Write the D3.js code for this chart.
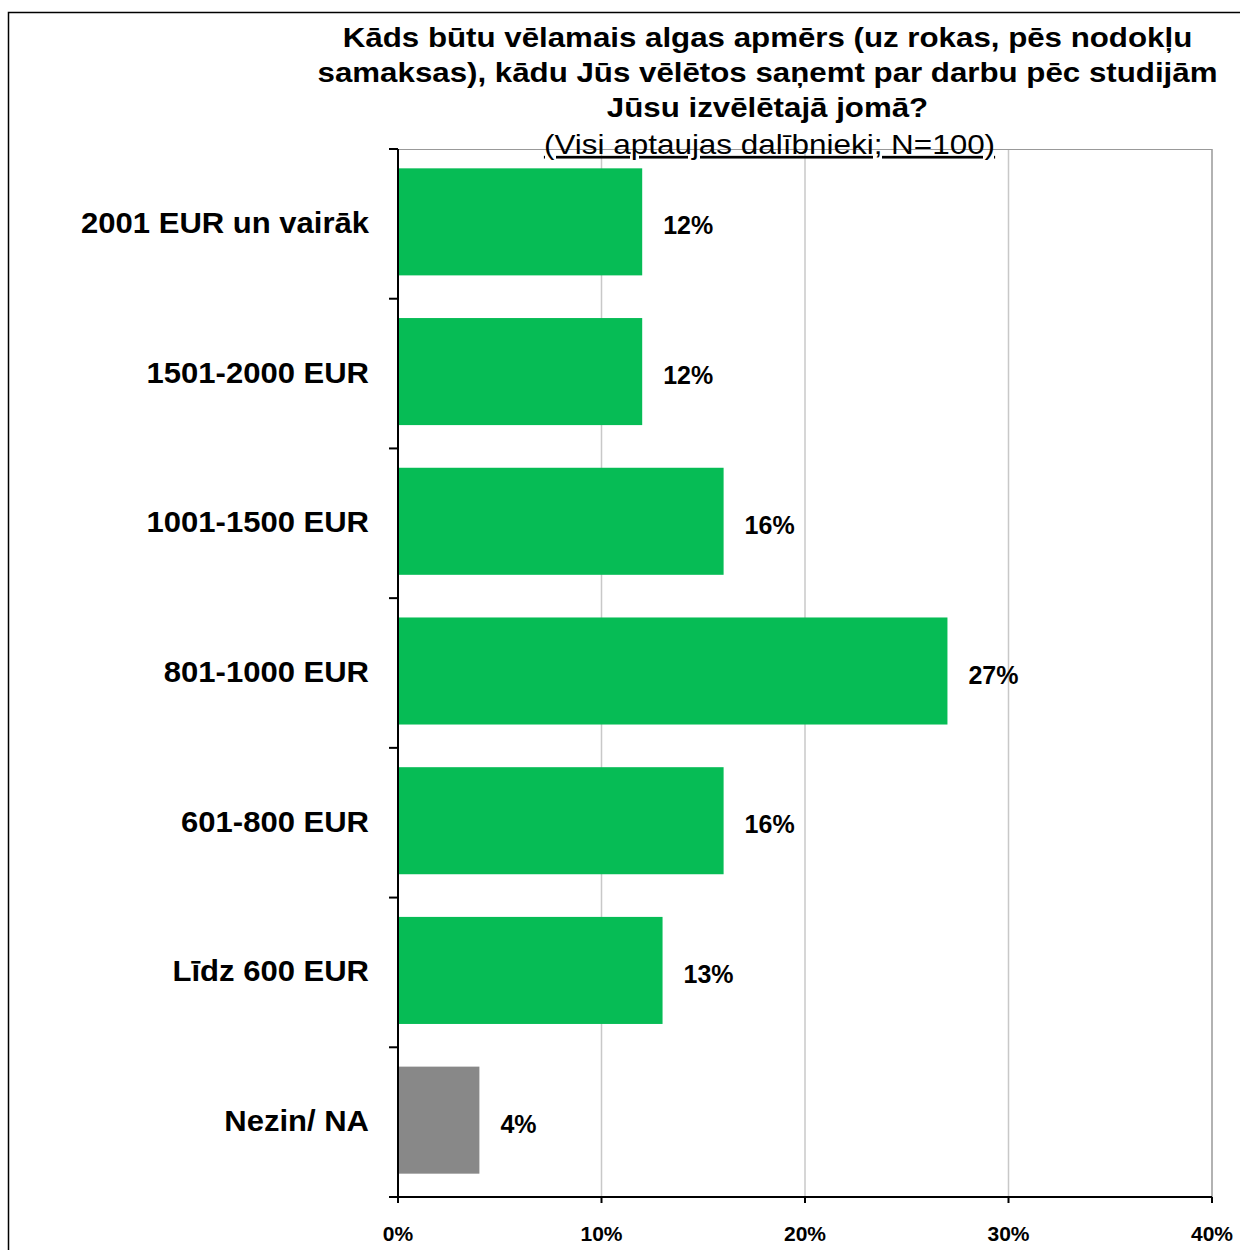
<!DOCTYPE html>
<html>
<head>
<meta charset="utf-8">
<script src="https://cdn.jsdelivr.net/npm/d3@7"></script>
<style>
  body { margin: 0; background: #fff; }
  text { font-family: "Liberation Sans", Arial, sans-serif; }
</style>
</head>
<body>
<div id="chart-container"></div>
<script>
// data
let categories = ["2001 EUR un vairāk", "1501-2000 EUR", "1001-1500 EUR", "801-1000 EUR", "601-800 EUR", "Līdz 600 EUR", "Nezin/ NA"];
let values = [12, 12, 16, 27, 16, 13, 4];
let barColors = ["#06bc55", "#06bc55", "#06bc55", "#06bc55", "#06bc55", "#06bc55", "#888888"];
let xTicks = [0, 10, 20, 30, 40];
let titleLines = ["Kāds būtu vēlamais algas apmērs (uz rokas, pēs nodokļu", "samaksas), kādu Jūs vēlētos saņemt par darbu pēc studijām", "Jūsu izvēlētajā jomā?"];
let subtitle = "(Visi aptaujas dalībnieki; N=100)";

chart = {
  "scale": {
    "x": d3.scaleLinear(),
    "y": d3.scaleBand()
  },
  "margin": { "top": 149, "bottom": 53, "left": 398, "right": 28 },
  "width": 1240,
  "height": 1250
}

// text in the original is a bit wider than Arial, so stretch it horizontally
function stretched(x, y, sx){
  return "translate(" + x + "," + y + ") scale(" + sx + ",1)";
}

function drawChart(){
  let svg = d3.select("#chart-container").append("svg")
    .attr("width", chart.width).attr("height", chart.height);

  let y0 = chart.margin.top, y1 = chart.height - chart.margin.bottom;
  chart.scale.x.domain([0, 40]).range([chart.margin.left, chart.width - chart.margin.right]);
  // bars sit a little above the middle of each slot
  chart.scale.y.domain(categories).range([y0 - 2, y1 - 2]).paddingInner(0.285).paddingOuter(0.1425);

  // outer frame
  svg.append("rect").attr("x", 8.5).attr("y", 12.5).attr("width", 1240).attr("height", 1250)
    .attr("fill", "none").attr("stroke", "#000").attr("stroke-width", 1.5);

  let x0 = chart.scale.x(0), x1 = chart.scale.x(40);

  // gridlines
  svg.append("g").selectAll("line").data(xTicks.slice(1))
    .enter().append("line")
    .attr("x1", d => chart.scale.x(d)).attr("x2", d => chart.scale.x(d))
    .attr("y1", y0).attr("y2", y1)
    .attr("stroke", d => d == 40 ? "#999" : "#c8c8c8").attr("stroke-width", 1.5);
  svg.append("line").attr("x1", x0).attr("x2", x1).attr("y1", y0 + 0.5).attr("y2", y0 + 0.5)
    .attr("stroke", "#999").attr("stroke-width", 1.2);

  // bars
  svg.append("g").selectAll("rect").data(values)
    .enter().append("rect")
    .attr("x", x0)
    .attr("y", (d, i) => chart.scale.y(categories[i]))
    .attr("width", d => chart.scale.x(d) - x0)
    .attr("height", chart.scale.y.bandwidth())
    .attr("fill", (d, i) => barColors[i]);

  // value labels
  svg.append("g").selectAll("text").data(values)
    .enter().append("text")
    .attr("x", d => chart.scale.x(d) + 21)
    .attr("y", (d, i) => chart.scale.y(categories[i]) + chart.scale.y.bandwidth() / 2 + 3)
    .attr("dy", "0.38em")
    .style("font-size", "25px").style("font-weight", "bold")
    .text(d => d + "%");

  // category labels
  svg.append("g").selectAll("text").data(categories)
    .enter().append("text")
    .attr("transform", d => stretched(369, chart.scale.y(d) + chart.scale.y.bandwidth() / 2, 1.07))
    .attr("dy", "0.38em")
    .attr("text-anchor", "end")
    .style("font-size", "29px").style("font-weight", "bold")
    .text(d => d);

  // y axis line and ticks at slot edges
  let edges = d3.range(categories.length + 1).map(i => y0 + i * (y1 - y0) / categories.length);
  svg.append("line").attr("x1", x0).attr("x2", x0).attr("y1", y0).attr("y2", y1 + 6)
    .attr("stroke", "#000").attr("stroke-width", 2);
  svg.append("g").selectAll("line").data(edges)
    .enter().append("line")
    .attr("x1", 389).attr("x2", x0).attr("y1", d => d).attr("y2", d => d)
    .attr("stroke", "#000").attr("stroke-width", 2);

  // x axis
  svg.append("line").attr("x1", 389).attr("x2", x1).attr("y1", y1).attr("y2", y1)
    .attr("stroke", "#000").attr("stroke-width", 2);
  svg.append("g").selectAll("line").data(xTicks)
    .enter().append("line")
    .attr("x1", d => chart.scale.x(d)).attr("x2", d => chart.scale.x(d))
    .attr("y1", y1).attr("y2", y1 + 6)
    .attr("stroke", "#000").attr("stroke-width", 2);
  svg.append("g").selectAll("text").data(xTicks)
    .enter().append("text")
    .attr("x", d => chart.scale.x(d))
    .attr("y", y1 + 44)
    .attr("text-anchor", "middle")
    .style("font-size", "21px").style("font-weight", "bold")
    .text(d => d + "%");

  // title
  svg.append("g").selectAll("text").data(titleLines)
    .enter().append("text")
    .attr("transform", (d, i) => stretched(767.5, 47 + i * 35, 1.158))
    .attr("text-anchor", "middle")
    .style("font-size", "27px").style("font-weight", "bold")
    .text(d => d);
  svg.append("text")
    .attr("transform", stretched(769.5, 154, 1.165))
    .attr("text-anchor", "middle")
    .style("font-size", "27px")
    .style("text-decoration", "underline")
    .text(subtitle);
}

drawChart();
</script>
</body>
</html>
